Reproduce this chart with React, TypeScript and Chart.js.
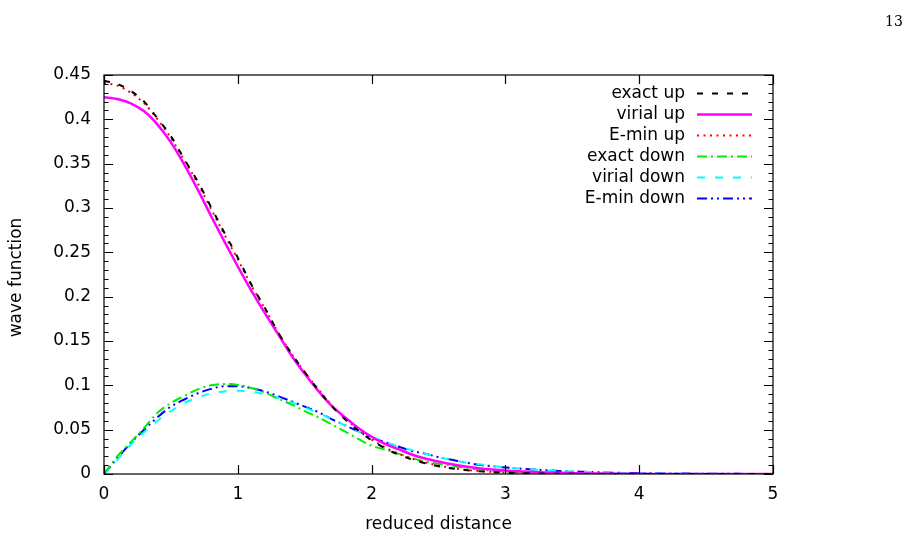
import React, { useEffect, useRef } from "react";
import { Chart, registerables } from "chart.js";

Chart.register(...registerables);

const xs = [0, 0.1, 0.2, 0.3, 0.4, 0.5, 0.6, 0.7, 0.8, 0.9, 1.0, 1.1, 1.2, 1.3, 1.4, 1.5, 1.6, 1.7, 1.8, 1.9, 2.0, 2.1, 2.2, 2.3, 2.4, 2.5, 2.6, 2.7, 2.8, 2.9, 3.0, 3.1, 3.2, 3.3, 3.4, 3.5, 3.6, 3.7, 3.8, 3.9, 4.0, 4.1, 4.2, 4.3, 4.4, 4.5, 4.6, 4.7, 4.8, 4.9, 5.0];

const exactUp = [0.4435, 0.440, 0.432, 0.420, 0.401, 0.381, 0.355, 0.330, 0.301, 0.272, 0.244, 0.214, 0.188, 0.160, 0.136, 0.115, 0.095, 0.077, 0.062, 0.049, 0.038, 0.029, 0.022, 0.0165, 0.012, 0.0088, 0.0063, 0.0045, 0.0032, 0.0022, 0.0015, 0.0010, 0.0007, 0.0005, 0.0003, 0.0002, 0.0001, 0.0001, 0, 0, 0, 0, 0, 0, 0, 0, 0, 0, 0, 0, 0];

const virialUp = [0.425, 0.423, 0.418, 0.409, 0.394, 0.374, 0.349, 0.321, 0.291, 0.262, 0.234, 0.207, 0.182, 0.158, 0.134, 0.113, 0.094, 0.077, 0.064, 0.052, 0.042, 0.034, 0.028, 0.022, 0.0175, 0.014, 0.011, 0.0085, 0.0066, 0.0051, 0.0039, 0.0030, 0.0023, 0.0017, 0.0013, 0.0010, 0.0007, 0.0005, 0.0004, 0.0003, 0.0002, 0.0001, 0.0001, 0, 0, 0, 0, 0, 0, 0, 0];

const eminUp = [0.441, 0.438, 0.430, 0.418, 0.400, 0.379, 0.354, 0.328, 0.299, 0.270, 0.242, 0.213, 0.187, 0.160, 0.136, 0.115, 0.096, 0.078, 0.063, 0.050, 0.039, 0.030, 0.023, 0.0175, 0.013, 0.0095, 0.0068, 0.0048, 0.0034, 0.0024, 0.0017, 0.0012, 0.0008, 0.0005, 0.0003, 0.0002, 0.0001, 0.0001, 0, 0, 0, 0, 0, 0, 0, 0, 0, 0, 0, 0, 0];

const exactDown = [0, 0.020, 0.036, 0.052, 0.069, 0.080, 0.088, 0.0955, 0.100, 0.1015, 0.1005, 0.097, 0.092, 0.085, 0.0785, 0.071, 0.064, 0.056, 0.048, 0.0395, 0.032, 0.0275, 0.023, 0.018, 0.014, 0.0115, 0.0092, 0.0068, 0.0050, 0.0036, 0.0027, 0.0019, 0.0014, 0.0010, 0.0007, 0.0005, 0.0004, 0.0003, 0.0002, 0.0001, 0, 0, 0, 0, 0, 0, 0, 0, 0, 0, 0];

const virialDown = [0, 0.016, 0.033, 0.047, 0.060, 0.071, 0.080, 0.086, 0.091, 0.093, 0.094, 0.093, 0.090, 0.086, 0.081, 0.075, 0.069, 0.062, 0.055, 0.048, 0.042, 0.036, 0.031, 0.027, 0.023, 0.019, 0.016, 0.013, 0.011, 0.009, 0.0075, 0.0062, 0.0051, 0.0042, 0.0034, 0.0028, 0.0023, 0.0018, 0.0015, 0.0012, 0.0009, 0.0007, 0.0006, 0.0004, 0.0003, 0.0003, 0.0002, 0.0001, 0.0001, 0.0001, 0.0001];

const eminDown = [0, 0.018, 0.035, 0.050, 0.064, 0.076, 0.084, 0.091, 0.096, 0.099, 0.099, 0.097, 0.093, 0.088, 0.082, 0.076, 0.070, 0.062, 0.055, 0.048, 0.041, 0.036, 0.031, 0.026, 0.023, 0.019, 0.016, 0.013, 0.0103, 0.0088, 0.0074, 0.0062, 0.0052, 0.0043, 0.0035, 0.0029, 0.0024, 0.0019, 0.0015, 0.0012, 0.0010, 0.0008, 0.0006, 0.0005, 0.0004, 0.0003, 0.0002, 0.0002, 0.0001, 0.0001, 0.0001];

const seriesLabels = ["exact up", "virial up", "E-min up", "exact down", "virial down", "E-min down"];
const seriesValues = [exactUp, virialUp, eminUp, exactDown, virialDown, eminDown];
const seriesColors = ["#000000", "#ff00ff", "#ff0000", "#00ee00", "#00ffff", "#0000ff"];
const seriesDashes: number[][] = [[6, 9], [], [2, 4.5], [10, 4, 2, 4], [8, 10], [10, 4, 2, 4, 2, 4]];
const seriesWidths = [2, 2.5, 2, 2, 2, 2];

const xTickLabels = ["0", "1", "2", "3", "4", "5"];
const yTickLabels = ["0", "0.05", "0.1", "0.15", "0.2", "0.25", "0.3", "0.35", "0.4", "0.45"];
const xTitle = "reduced distance";
const yTitle = "wave function";
const pageNumber = "13";

const FONT = '"DejaVu Sans", sans-serif';
const FS = 17;

const framePlugin = {
  id: "gnuplotFrame",
  afterDatasetsDraw(chart: any) {
    const { ctx, chartArea } = chart;
    const { left, right, top, bottom } = chartArea;
    const xs_ = chart.scales.x;
    const ys_ = chart.scales.y;
    ctx.save();
    ctx.strokeStyle = "#000";
    ctx.lineWidth = 1.2;
    ctx.setLineDash([]);
    ctx.strokeRect(left, top, right - left, bottom - top);
    for (let i = 0; i <= 45; i++) {
      const v = i / 100;
      const py = Math.round(ys_.getPixelForValue(v)) + 0.5;
      const len = i % 5 === 0 ? 9 : 4.5;
      ctx.beginPath();
      ctx.moveTo(left, py);
      ctx.lineTo(left + len, py);
      ctx.moveTo(right, py);
      ctx.lineTo(right - len, py);
      ctx.stroke();
    }
    for (let i = 0; i < xTickLabels.length; i++) {
      const px = Math.round(xs_.getPixelForValue(i)) + 0.5;
      ctx.beginPath();
      ctx.moveTo(px, bottom);
      ctx.lineTo(px, bottom - 9);
      ctx.moveTo(px, top);
      ctx.lineTo(px, top + 9);
      ctx.stroke();
    }
    ctx.fillStyle = "#000";
    ctx.font = `${FS}px ${FONT}`;
    ctx.textAlign = "center";
    ctx.textBaseline = "middle";
    ctx.fillText(xTitle, (left + right) / 2, 525);
    ctx.save();
    ctx.translate(17, (top + bottom) / 2 + 3);
    ctx.rotate(-Math.PI / 2);
    ctx.fillText(yTitle, 0, 0);
    ctx.restore();
    const textRight = 685;
    const sx0 = 697;
    const sx1 = 752;
    chart.data.datasets.forEach((ds: any, i: number) => {
      const y = 93.5 + i * 21;
      ctx.fillStyle = "#000";
      ctx.textAlign = "right";
      ctx.textBaseline = "middle";
      ctx.fillText(ds.label, textRight, y);
      ctx.strokeStyle = ds.borderColor;
      ctx.lineWidth = ds.borderWidth;
      ctx.setLineDash(ds.borderDash || []);
      ctx.beginPath();
      ctx.moveTo(sx0, y);
      ctx.lineTo(sx1, y);
      ctx.stroke();
    });
    ctx.restore();
  },
};

export default function App() {
  const ref = useRef<HTMLCanvasElement | null>(null);
  useEffect(() => {
    if (!ref.current) return;
    const datasets = seriesLabels.map((label, i) => ({
      label,
      data: xs.map((x, j) => ({ x, y: seriesValues[i][j] })),
      borderColor: seriesColors[i],
      backgroundColor: seriesColors[i],
      borderWidth: seriesWidths[i],
      borderDash: seriesDashes[i],
      pointRadius: 0,
      fill: false,
      cubicInterpolationMode: "monotone" as const,
    }));
    const chart = new Chart(ref.current, {
      type: "line",
      data: { datasets },
      options: {
        responsive: false,
        animation: false,
        layout: { padding: { left: 0, right: 142, top: 75, bottom: 0 } },
        plugins: { legend: { display: false }, tooltip: { enabled: false } },
        scales: {
          x: {
            type: "linear",
            min: 0,
            max: 5,
            grid: { display: false, drawTicks: false, tickLength: 0 },
            border: { display: false },
            ticks: {
              stepSize: 1,
              padding: 10,
              color: "#000",
              font: { family: FONT, size: FS },
              callback: (v: any) => xTickLabels[Math.round(Number(v))] ?? "",
            },
            afterFit: (s: any) => { s.height = 66; },
          },
          y: {
            type: "linear",
            min: 0,
            max: 0.45,
            grid: { display: false, drawTicks: false, tickLength: 0 },
            border: { display: false },
            ticks: {
              stepSize: 0.05,
              padding: 13,
              color: "#000",
              font: { family: FONT, size: FS },
              callback: (v: any) => yTickLabels[Math.round(Number(v) / 0.05)] ?? "",
            },
            afterFit: (s: any) => { s.width = 104; },
          },
        },
      },
      plugins: [framePlugin],
    });
    return () => chart.destroy();
  }, []);
  return (
    <div style={{ position: "fixed", left: 0, top: 0, width: 915, height: 540, background: "#fff" }}>
      <canvas ref={ref} width={915} height={540} style={{ display: "block" }} />
      <div style={{ position: "absolute", left: 885, top: 13, fontFamily: '"DejaVu Serif", "Liberation Serif", serif', fontSize: 14, color: "#000" }}>{pageNumber}</div>
    </div>
  );
}
